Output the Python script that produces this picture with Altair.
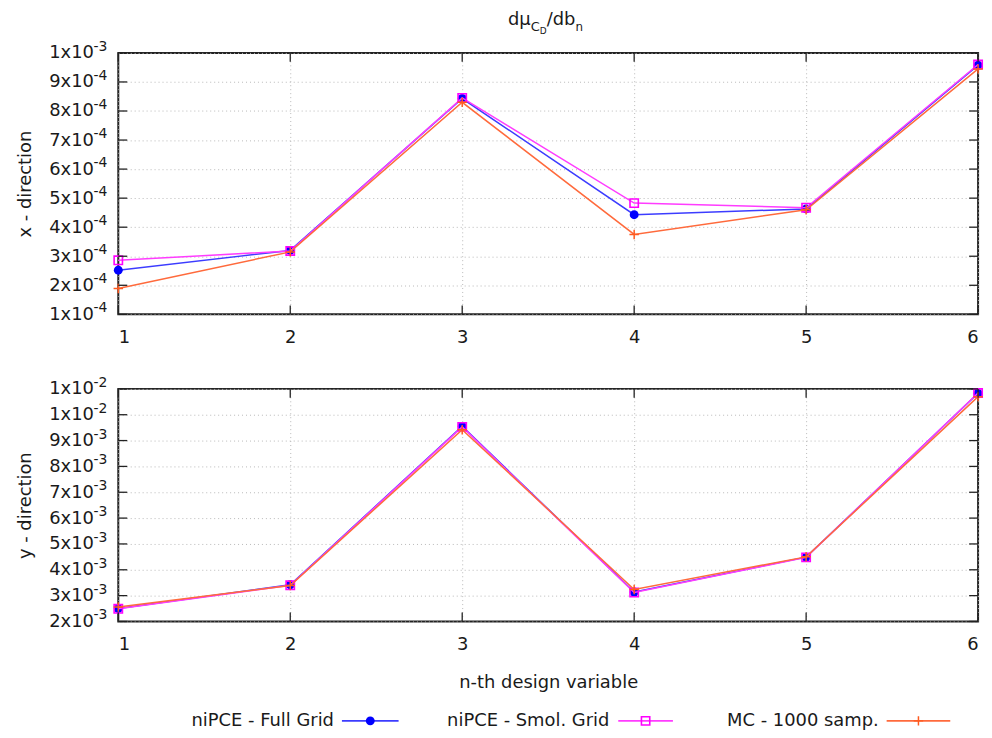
import altair as alt
import pandas as pd

# ---------------- data ----------------
design_var = [1, 2, 3, 4, 5, 6]
series_names = ["niPCE - Full Grid", "niPCE - Smol. Grid", "MC - 1000 samp."]

x_full = [2.52e-4, 3.20e-4, 8.43e-4, 4.43e-4, 4.63e-4, 9.58e-4]
x_smol = [2.86e-4, 3.18e-4, 8.45e-4, 4.83e-4, 4.67e-4, 9.60e-4]
x_mc = [1.89e-4, 3.15e-4, 8.30e-4, 3.75e-4, 4.60e-4, 9.45e-4]

y_full = [2.50e-3, 3.42e-3, 9.55e-3, 3.14e-3, 4.49e-3, 1.083e-2]
y_smol = [2.49e-3, 3.40e-3, 9.53e-3, 3.12e-3, 4.48e-3, 1.084e-2]
y_mc = [2.56e-3, 3.39e-3, 9.42e-3, 3.24e-3, 4.50e-3, 1.070e-2]

x_ticks = [1, 2, 3, 4, 5, 6]
top_ticks = [0.0001, 0.0002, 0.0003, 0.0004, 0.0005, 0.0006, 0.0007, 0.0008, 0.0009, 0.001]
top_mant = ["1x10", "2x10", "3x10", "4x10", "5x10", "6x10", "7x10", "8x10", "9x10", "1x10"]
top_exp = ["-4", "-4", "-4", "-4", "-4", "-4", "-4", "-4", "-4", "-3"]
bot_ticks = [0.002, 0.003, 0.004, 0.005, 0.006, 0.007, 0.008, 0.009, 0.01, 0.011]
bot_mant = ["2x10", "3x10", "4x10", "5x10", "6x10", "7x10", "8x10", "9x10", "1x10", "1x10"]
bot_exp = ["-3", "-3", "-3", "-3", "-3", "-3", "-3", "-3", "-2", "-2"]

title_parts = ["dμ", "C", "D", "/db", "n"]
top_ytitle = "x - direction"
bot_ytitle = "y - direction"
xtitle = "n-th design variable"

# ---------------- style ----------------
FONT = "DejaVu Sans"
TXT = "#1a1a1a"
W = 865
H_TOP = 263
H_BOT = 234
LABEL_GAP = 25
line_colors = ["#3c3cff", "#ff3cff", "#ff6a3c"]
mark_colors = ["#0000ff", "#ff00ff", "#ff5a1f"]
PLUS = "M-1,0L1,0M0,-1L0,1"
marker_styles = [
    dict(shape="circle", filled=True, size=80, color=mark_colors[0], opacity=1),
    dict(shape="square", filled=False, size=70, strokeWidth=1.6, color=mark_colors[1], opacity=1),
    dict(shape=PLUS, filled=False, size=90, strokeWidth=1.5, color=mark_colors[2], opacity=1),
]


def label_expr(ticks, labels):
    arr_l = "[" + ",".join("'%s'" % l for l in labels) + "]"
    arr_t = "[" + ",".join(repr(t) for t in ticks) + "]"
    return arr_l + "[indexof(" + arr_t + ", datum.value)]"


def panel(series_vals, ticks, mant, expo, height, ytitle, x_title=""):
    xs = alt.Scale(domain=[1, 6], nice=False, zero=False)
    ys = alt.Scale(domain=[ticks[0], ticks[-1]], nice=False, zero=False)
    xkw = dict(values=x_ticks, format="d", grid=True, labelPadding=14)
    if x_title:
        xkw.update(title=x_title, titlePadding=20)
    else:
        xkw.update(title="")
    xaxis = alt.Axis(**xkw)
    yaxis = alt.Axis(values=ticks, labelExpr=label_expr(ticks, mant), grid=True,
                     title=ytitle, titlePadding=14, labelPadding=LABEL_GAP)
    X = lambda f: alt.X(f, scale=xs, axis=xaxis)
    Y = lambda f: alt.Y(f, scale=ys, axis=yaxis)
    layers = []
    for i, (name, vals) in enumerate(zip(series_names, series_vals)):
        d = pd.DataFrame({"n": design_var, "value": vals, "series": name})
        base = alt.Chart(d)
        layers.append(base.mark_line(color=line_colors[i], strokeWidth=1.5).encode(
            x=X("n:Q"), y=Y("value:Q")))
        layers.append(base.mark_point(**marker_styles[i]).encode(
            x=X("n:Q"), y=Y("value:Q")))
    # inward tick marks on all four sides
    yt = alt.Chart(pd.DataFrame({"t": ticks, "e": expo}))
    xt = alt.Chart(pd.DataFrame({"t": x_ticks}))
    tick_style = dict(color="#222", strokeWidth=1.3)
    layers.append(yt.mark_rule(**tick_style).encode(
        y=Y("t:Q"), x=alt.value(0), x2=alt.value(9)))
    layers.append(yt.mark_rule(**tick_style).encode(
        y=Y("t:Q"), x=alt.value(W - 9), x2=alt.value(W)))
    layers.append(xt.mark_rule(**tick_style).encode(
        x=X("t:Q"), y=alt.value(0), y2=alt.value(9)))
    layers.append(xt.mark_rule(**tick_style).encode(
        x=X("t:Q"), y=alt.value(height - 9), y2=alt.value(height)))
    # superscript exponents of the y tick labels
    layers.append(yt.mark_text(align="left", baseline="middle", fontSize=14, dy=-6,
                               font=FONT, color=TXT).encode(
        y=Y("t:Q"), x=alt.value(-LABEL_GAP), text="e:N"))
    return layers


# ---------------- top panel ----------------
top_layers = panel([x_full, x_smol, x_mc], top_ticks, top_mant, top_exp, H_TOP, top_ytitle)

# title d mu_{C_D} / d b_n built from pieces
title_pos = [(392, -28, 18), (415, -22, 13), (424, -19, 9), (431, -28, 18), (460, -22, 12)]
for part, (px, py, fs) in zip(title_parts, title_pos):
    top_layers.append(
        alt.Chart(pd.DataFrame({"t": [part]})).mark_text(
            align="left", baseline="alphabetic", fontSize=fs, font=FONT, color=TXT
        ).encode(text="t:N", x=alt.value(px), y=alt.value(py))
    )

top = alt.layer(*top_layers).properties(width=W, height=H_TOP)

# ---------------- bottom panel ----------------
bot_layers = panel([y_full, y_smol, y_mc], bot_ticks, bot_mant, bot_exp, H_BOT, bot_ytitle, xtitle)

# legend (gnuplot style: label, then line sample with symbol)
LEG_Y = 334
leg_text_end = [217, 494, 765]
leg_line = [(225, 282), (503, 558), (773, 837)]
for i, name in enumerate(series_names):
    ld = alt.Chart(pd.DataFrame({"label": [name]}))
    bot_layers.append(ld.mark_text(align="right", baseline="middle", fontSize=18,
                                   font=FONT, color=TXT).encode(
        text="label:N", x=alt.value(leg_text_end[i]), y=alt.value(LEG_Y)))
    a, b = leg_line[i]
    bot_layers.append(ld.mark_rule(color=line_colors[i], strokeWidth=2).encode(
        x=alt.value(a), x2=alt.value(b), y=alt.value(LEG_Y)))
    bot_layers.append(ld.mark_point(**marker_styles[i]).encode(
        x=alt.value((a + b) / 2), y=alt.value(LEG_Y)))

bottom = alt.layer(*bot_layers).properties(width=W, height=H_BOT)

chart = alt.vconcat(top, bottom, spacing=28).properties(
    padding={"left": 15, "top": 8, "right": 5, "bottom": 5}
).configure(font=FONT).configure_view(
    stroke="#222", strokeWidth=2
).configure_axis(
    labelFont=FONT, titleFont=FONT, labelFontSize=18, titleFontSize=18,
    titleFontWeight="normal", labelColor=TXT, titleColor=TXT,
    gridColor="#b8b8b8", gridDash=[1, 3], gridWidth=1,
    ticks=False, domain=False
)

chart.save("out.html", embed_options={"renderer": "svg", "actions": False})
